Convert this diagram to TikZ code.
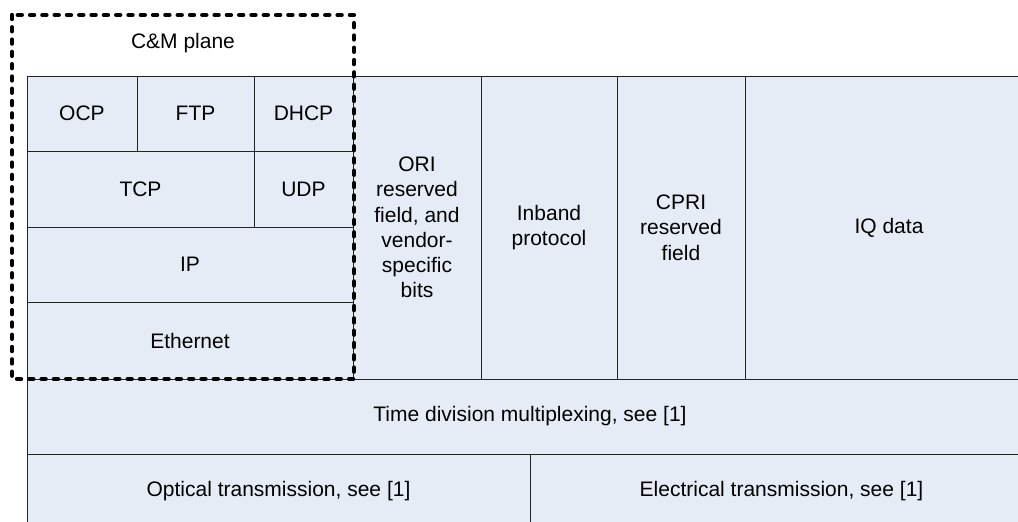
\documentclass[tikz,border=0pt]{standalone}
\usepackage{fontspec}
\setmainfont{Liberation Sans}
\usetikzlibrary{positioning}
\definecolor{cellfill}{RGB}{229,236,246}
\definecolor{cellline}{RGB}{35,35,35}
\newcommand{\lbl}{\fontsize{21}{25.3}\selectfont}
\tikzset{
  cell/.style={draw=cellline,fill=cellfill,line width=1pt,inner sep=0pt,outer sep=0pt,
    anchor=north west,align=center,font=\lbl},
  wh/.style 2 args={minimum width=#1pt,minimum height=#2pt},
  cmbox/.style={line width=4.4pt,dash pattern=on 4pt off 8.3pt,line cap=round}, % C&M plane frame
  plain/.style={font=\lbl,inner sep=0pt},
}
\begin{document}
\begin{tikzpicture}[x=1pt,y=-1pt]
  \useasboundingbox (0,0) rectangle (1018,522);
  \clip (0,0) rectangle (1018,522);
  % C&M stack
  \node[cell,wh={110}{75}] (ocp) at (27,76) {OCP};
  \node[cell,wh={117}{75}] (ftp) at (137,76) {FTP};
  \node[cell,wh={99}{75}] (dhcp) at (254,76) {DHCP};
  \node[cell,wh={227}{76}] (tcp) at (27,151) {TCP};
  \node[cell,wh={99}{76}] (udp) at (254,151) {UDP};
  \node[cell,wh={326}{75}] (ip) at (27,227) {IP};
  \node[cell,wh={326}{77}] (eth) at (27,302) {Ethernet};
  % frame fields
  \node[cell,wh={128}{303}] (ori) at (353,76) {ORI\\reserved\\field, and\\vendor-\\specific\\bits};
  \node[cell,wh={136}{303}] (inband) at (481,76) {Inband\\protocol};
  \node[cell,wh={128}{303}] (cpri) at (617,76) {CPRI\\reserved\\field};
  \node[cell,wh={288}{303}] (iq) at (745,76) {IQ data};
  % lower layers
  \node[cell,wh={1006}{75}] (tdm) at (27,379) {Time division multiplexing, see [1]};
  \node[cell,wh={503}{74}] (optical) at (27,454) {Optical transmission, see [1]};
  \node[cell,wh={503}{74}] (electrical) at (530,454) {Electrical transmission, see [1]};
  % C&M plane
  \node[plain] (cmlabel) at (183,43) {C\&M plane};
  \draw[cmbox] (12,15) rectangle (354,379);
\end{tikzpicture}
\end{document}
